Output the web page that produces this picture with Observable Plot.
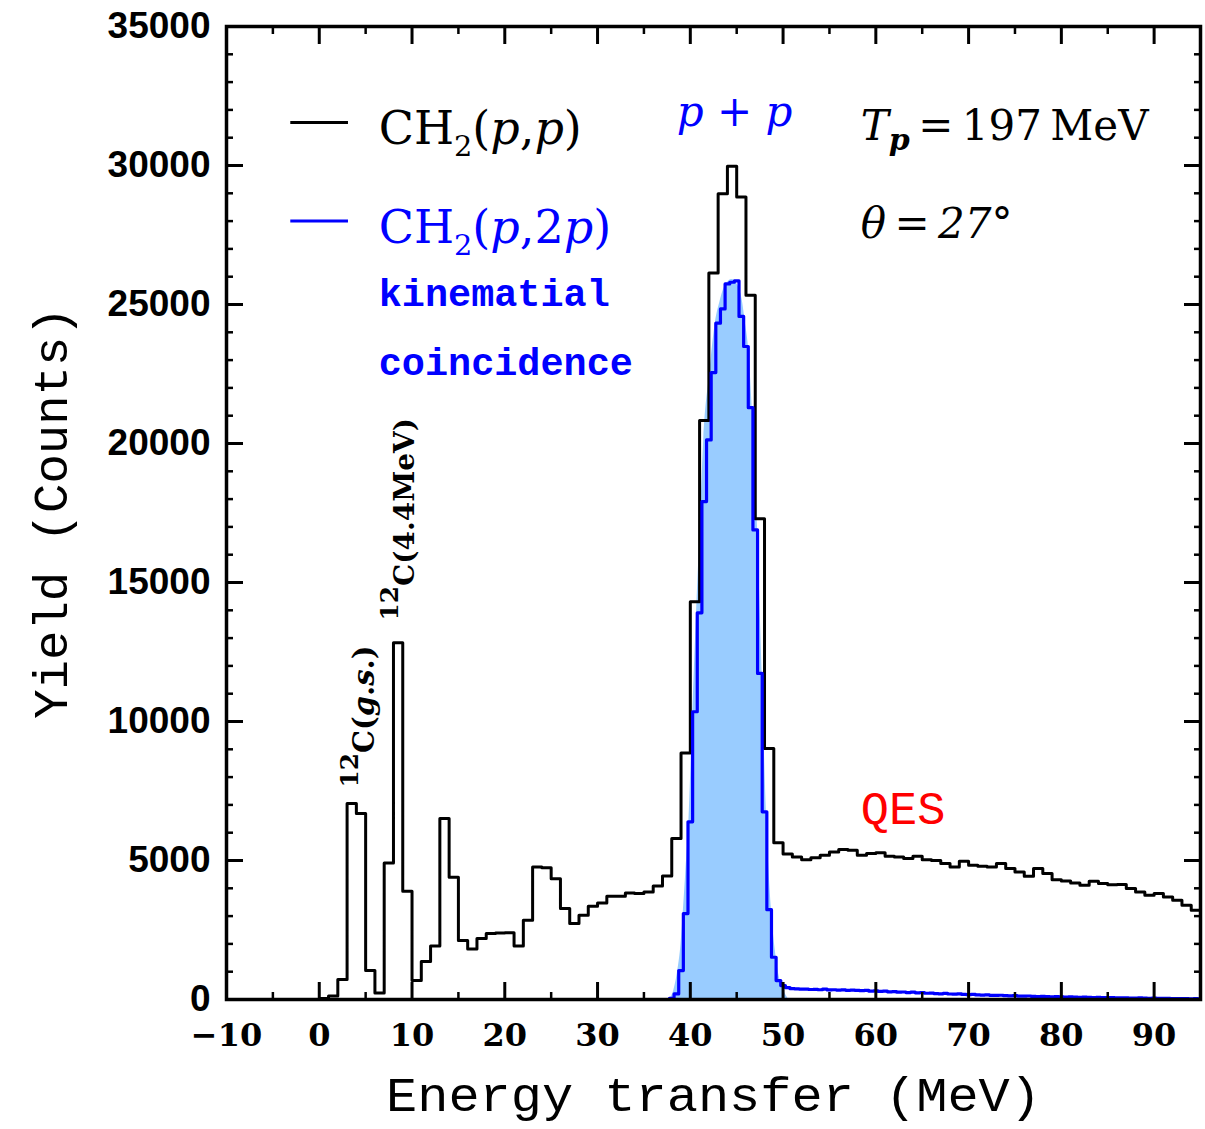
<!DOCTYPE html>
<html>
<head>
<meta charset="utf-8">
<script src="https://cdn.jsdelivr.net/npm/d3@7"></script>
<script src="https://cdn.jsdelivr.net/npm/@observablehq/plot@0.6"></script>
<style>
  body { margin: 0; background: #fff; }
  svg { display: block; }
</style>
</head>
<body>
<div id="chart"></div>
<script>
// ---- Data -------------------------------------------------------------
// CH2(p,p) singles spectrum, 1 MeV bins starting at 0 MeV
const singlesStart = 0;
const singlesWidth = 1;
const singlesCounts = [
  40, 130, 720, 7050, 6690, 1040, 230, 4910, 12830, 3890,
  680, 1370, 1920, 6510, 4400, 2120, 1820, 2190, 2370, 2390,
  2400, 1920, 2850, 4770, 4740, 4340, 3270, 2730, 3030, 3350,
  3470, 3710, 3710, 3830, 3810, 3870, 4080, 4440, 5790, 8870,
  14310, 20830, 26130, 28980, 29970, 28870, 25330, 17290, 9030, 5640,
  5230, 5130, 5030, 5100, 5190, 5310, 5400, 5370, 5190, 5250,
  5280, 5150, 5130, 5070, 5150, 5030, 5000, 4890, 4770, 4970,
  4830, 4790, 4770, 4890, 4710, 4590, 4430, 4710, 4530, 4310,
  4260, 4190, 4110, 4250, 4170, 4130, 4140, 3990, 3870, 3750,
  3810, 3690, 3570, 3390, 3210
];

// CH2(p,2p) kinematical-coincidence spectrum, 0.5 MeV bins
const coincStart = 37.75;
const coincWidth = 0.5;
const coincCounts = [
  40, 200, 1040, 3090, 6390, 10350, 13910, 17910, 20130, 22550,
  24330, 24840, 25740, 25800, 25850, 24570, 23490, 21290, 16890, 11730,
  6750, 3230, 1520, 680, 500, 430, 390,
  380, 370, 375, 360, 365, 350, 372, 345, 350, 340,
  348, 330, 340, 325, 318, 330, 300, 310, 290, 298,
  275, 285, 262, 270, 250, 262, 240, 248, 225, 232,
  212, 205, 220, 198, 190, 200, 182, 175, 186, 165,
  158, 166, 150, 145, 152, 138, 130, 140, 125, 118,
  126, 112, 108, 115, 102, 98, 104, 92, 88, 95,
  84, 80, 86, 76, 72, 78, 68, 65, 70, 60,
  58, 62, 54, 50, 56, 46, 44, 48, 40, 38,
  42, 34, 32, 36, 28, 26, 30, 24
];

// p+p elastic peak shape (shaded)
const peakEnergy = [37.7, 38.2, 38.65, 39.0, 39.23, 39.5, 39.84, 40.27, 40.67, 41.0,
  41.45, 42.1, 42.7, 43.2, 43.8, 44.5, 45.1, 45.59, 45.94, 46.3,
  46.67, 47.2, 47.74, 48.2, 48.75, 49.25, 49.6, 50.07, 50.6];
const peakCounts = [0, 300, 1044, 2000, 3085, 4500, 6386, 10346, 13911, 16500,
  20130, 22553, 24332, 25100, 25700, 25900, 25700, 25170, 24332, 23370,
  21294, 17367, 11728, 6745, 3230, 1523, 800, 324, 0];

// Axis ticks
const xMajorTicks = [-10, 0, 10, 20, 30, 40, 50, 60, 70, 80, 90];
const xMinorTicks = [-5, 5, 15, 25, 35, 45, 55, 65, 75, 85];
const yMajorTicks = [0, 5000, 10000, 15000, 20000, 25000, 30000, 35000];
const yMinorTicks = d3.range(1000, 35000, 1000).filter(v => v % 5000 !== 0);

// Labels
const xLabel = "Energy transfer (MeV)";
const yLabel = "Yield (Counts)";
const legendSingles = "CH2(p,p)";
const legendCoinc = "CH2(p,2p)";
const coincNote = ["kinematial", "coincidence"];
const peakLabel = "p + p";
const beamLabel = "Tp\u2009=\u2009197\u2009MeV";
const angleLabel = "θ\u2009=\u200927°";
const qesLabel = "QES";
const gsLabel = "12C(g.s.)";
const exLabel = "12C(4.4MeV)";

// Rich formatting for labels that carry sub/superscripts and italics
const richText = {
  [legendSingles]: [{t: "CH"}, {t: "2", shift: 0.3, scale: 0.72}, {t: "("}, {t: "p", italic: true}, {t: ","}, {t: "p", italic: true}, {t: ")"}],
  [legendCoinc]: [{t: "CH"}, {t: "2", shift: 0.3, scale: 0.72}, {t: "("}, {t: "p", italic: true}, {t: ","}, {t: "2"}, {t: "p", italic: true}, {t: ")"}],
  [peakLabel]: [{t: "p", italic: true}, {t: " + "}, {t: "p", italic: true}],
  [beamLabel]: [{t: "T", italic: true}, {t: "p", italic: true, bold: true, shift: 0.25, scale: 0.75}, {t: "\u2009=\u2009197\u2009MeV"}],
  [angleLabel]: [{t: "θ", italic: true}, {t: "\u2009=\u2009"}, {t: "27°", italic: true}],
  [gsLabel]: [{t: "12", shift: -0.4, scale: 0.62}, {t: "C("}, {t: "g", italic: true}, {t: "."}, {t: "s", italic: true}, {t: ".)"}],
  [exLabel]: [{t: "12", shift: -0.4, scale: 0.62}, {t: "C(4.4MeV)"}]
};

// ---- Derived tables ---------------------------------------------------
function stepPoints(start, width, counts) {
  const pts = counts.map((c, i) => ({x: start + i * width, y: c}));
  pts.push({x: start + counts.length * width, y: counts[counts.length - 1]});
  return pts;
}
const singles = stepPoints(singlesStart, singlesWidth, singlesCounts);
const coinc = stepPoints(coincStart, coincWidth, coincCounts);
const peak = peakEnergy.map((e, i) => ({x: e, y: peakCounts[i]}));

const serif = "DejaVu Serif";
const mono = "Liberation Mono";
const sans = "Liberation Sans";
const blue = "#0000ff";

const fmtX = d => (d < 0 ? "\u2212" + (-d) : String(d));

const chart = Plot.plot({
  width: 1205,
  height: 1129,
  marginLeft: 226,
  marginRight: 5,
  marginTop: 26,
  marginBottom: 130,
  x: {domain: [-10, 95], label: null},
  y: {domain: [0, 35000], label: null},
  style: {background: "white", overflow: "visible"},
  marks: [
    // shaded peak and histograms
    Plot.areaY(peak, {x: "x", y: "y", curve: "monotone-x", fill: "#99ccff", clip: true}),
    Plot.line(singles, {x: "x", y: "y", curve: "step-after", stroke: "black", strokeWidth: 3, clip: true}),
    Plot.line(coinc, {x: "x", y: "y", curve: "step-after", stroke: blue, strokeWidth: 3.2, clip: true}),

    // frame and inward ticks on all four sides
    Plot.frame({stroke: "black", strokeWidth: 3.5}),
    Plot.axisX(xMajorTicks, {anchor: "bottom", tickSize: -17, strokeWidth: 3, fill: "none", label: null}),
    Plot.axisX(xMinorTicks, {anchor: "bottom", tickSize: -7, strokeWidth: 2.5, fill: "none", label: null}),
    Plot.axisX(xMajorTicks, {anchor: "top", tickSize: -17, strokeWidth: 3, fill: "none", label: null}),
    Plot.axisX(xMinorTicks, {anchor: "top", tickSize: -7, strokeWidth: 2.5, fill: "none", label: null}),
    Plot.axisY(yMajorTicks, {anchor: "left", tickSize: -17, strokeWidth: 3, fill: "none", label: null}),
    Plot.axisY(yMinorTicks, {anchor: "left", tickSize: -7, strokeWidth: 2.5, fill: "none", label: null}),
    Plot.axisY(yMajorTicks, {anchor: "right", tickSize: -17, strokeWidth: 3, fill: "none", label: null}),
    Plot.axisY(yMinorTicks, {anchor: "right", tickSize: -7, strokeWidth: 2.5, fill: "none", label: null}),

    // tick labels
    Plot.axisX(xMajorTicks, {anchor: "bottom", tickSize: 0, tickPadding: 24, tickFormat: fmtX,
      fontFamily: serif, fontWeight: "bold", fontSize: 32, fill: "black", label: null}),
    Plot.axisY(yMajorTicks, {anchor: "left", tickSize: 0, tickPadding: 16, tickFormat: d => String(d),
      fontFamily: sans, fontWeight: "bold", fontSize: 37, fill: "black", label: null}),

    // axis titles
    Plot.text([xLabel], {frameAnchor: "bottom", textAnchor: "middle", lineAnchor: "middle", dy: 96,
      fontFamily: mono, fontSize: 48, fill: "black"}),
    Plot.text([yLabel], {frameAnchor: "left", textAnchor: "middle", lineAnchor: "middle", rotate: -90, dx: -175,
      fontFamily: mono, fontSize: 49, fill: "black"}),

    // legend
    Plot.ruleY([31547], {x1: -3.07, x2: 3.15, stroke: "black", strokeWidth: 2.8}),
    Plot.ruleY([28004], {x1: -3.07, x2: 3.15, stroke: blue, strokeWidth: 2.8}),
    Plot.text([legendSingles], {x: 6.41, y: 31313, textAnchor: "start", fontFamily: serif, fontSize: 46, fill: "black"}),
    Plot.text([legendCoinc], {x: 6.41, y: 27752, textAnchor: "start", fontFamily: serif, fontSize: 46, fill: blue}),
    Plot.text([coincNote[0]], {x: 6.41, y: 25396, textAnchor: "start", fontFamily: mono, fontWeight: "bold", fontSize: 38.5, fill: blue}),
    Plot.text([coincNote[1]], {x: 6.41, y: 22914, textAnchor: "start", fontFamily: mono, fontWeight: "bold", fontSize: 38.5, fill: blue}),

    // annotations
    Plot.text([peakLabel], {x: 44.78, y: 31906, textAnchor: "middle", fontFamily: serif, fontSize: 42, fill: blue}),
    Plot.text([beamLabel], {x: 58.38, y: 31403, textAnchor: "start", fontFamily: serif, fontSize: 42, fill: "black"}),
    Plot.text([angleLabel], {x: 58.38, y: 27878, textAnchor: "start", fontFamily: serif, fontSize: 42, fill: "black"}),
    Plot.text([qesLabel], {x: 58.38, y: 6870, textAnchor: "start", fontFamily: mono, fontSize: 47, fill: "#ff0000"}),
    Plot.text([gsLabel], {x: 4.85, y: 7626, rotate: -90, textAnchor: "start", fontFamily: serif, fontWeight: "bold", fontSize: 29, fill: "black"}),
    Plot.text([exLabel], {x: 9.22, y: 13633, rotate: -90, textAnchor: "start", fontFamily: serif, fontWeight: "bold", fontSize: 28, fill: "black"})
  ]
});

// Turn the plain label strings into tspans with italics, subscripts and superscripts
d3.select(chart).selectAll("text").each(function () {
  if (this.textContent === xLabel) {
    // the x title is set a little wider than the monospace font gives
    d3.select(this).attr("textLength", 655).attr("lengthAdjust", "spacingAndGlyphs");
    return;
  }
  const spec = richText[this.textContent];
  if (!spec) return;
  const base = parseFloat(window.getComputedStyle(this).fontSize) || 40;
  const t = d3.select(this);
  t.text(null);
  let prev = 0;
  spec.forEach(part => {
    const shift = part.shift || 0;
    const ts = t.append("tspan").text(part.t);
    if (part.scale) ts.attr("font-size", (base * part.scale).toFixed(1) + "px");
    if (part.italic) ts.attr("font-style", "italic");
    if (part.bold) ts.attr("font-weight", "bold");
    if (shift !== prev) ts.attr("dy", ((shift - prev) * base).toFixed(1));
    prev = shift;
  });
});

document.getElementById("chart").appendChild(chart);
</script>
</body>
</html>
